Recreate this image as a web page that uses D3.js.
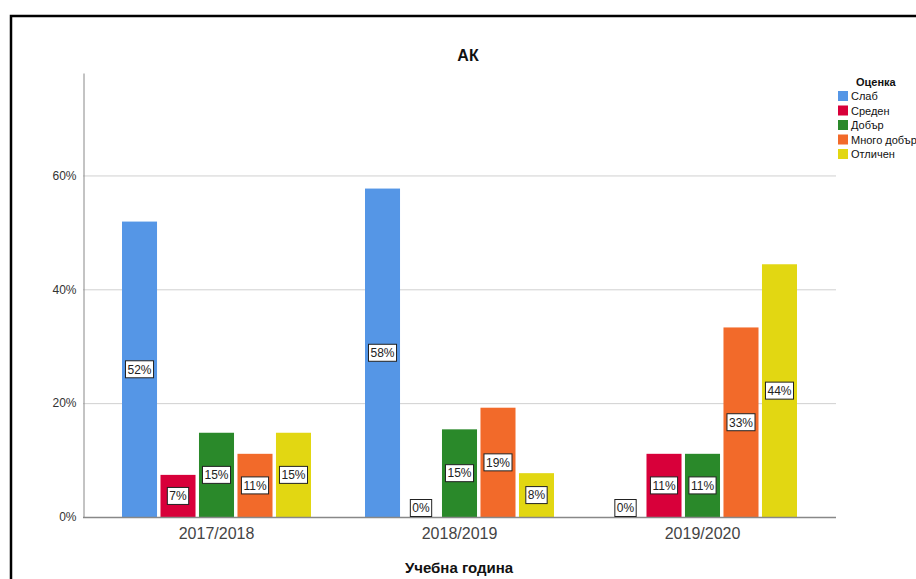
<!DOCTYPE html>
<html>
<head>
<meta charset="utf-8">
<script src="https://cdn.jsdelivr.net/npm/d3@7"></script>
<style>
  html, body { margin: 0; padding: 0; background: #fff; }
  svg { display: block; font-family: "Liberation Sans", Arial, sans-serif; }
</style>
</head>
<body>
<svg id="chart" width="916" height="579"></svg>
<script>
// School years on the x axis
const years = ["2017/2018", "2018/2019", "2019/2020"];
// Grade categories (legend order)
const grades = ["Слаб", "Среден", "Добър", "Много добър", "Отличен"];
const gradeColors = ["#5596e6", "#d8003a", "#2a892a", "#f26a2a", "#e2d712"];
// Share of students per grade, in percent, one array per school year
const share2017 = [51.9, 7.4, 14.8, 11.1, 14.8];
const share2018 = [57.7, 0, 15.4, 19.2, 7.7];
const share2019 = [0, 11.1, 11.1, 33.3, 44.4];
const yTicks = [0, 20, 40, 60];

const shares = [share2017, share2018, share2019];
const rows = [];
years.forEach((yr, i) => grades.forEach((g, j) => rows.push({ year: yr, grade: g, value: shares[i][j], gi: j })));

const svg = d3.select("#chart");

// outer frame
svg.append("rect")
  .attr("x", 11).attr("y", 16).attr("width", 920).attr("height", 600)
  .attr("fill", "none").attr("stroke", "#000").attr("stroke-width", 2.5);

const x0 = d3.scaleBand().domain(years).range([95, 824])
  .paddingInner(54 / 243).paddingOuter(27 / 243);
const x1 = d3.scaleBand().domain(grades).range([0, x0.bandwidth()]).paddingInner(0.09).paddingOuter(0);
const y = d3.scaleLinear().domain([0, 78]).range([517, 73]);

// gridlines
svg.append("g").selectAll("line").data(yTicks.filter(t => t > 0)).join("line")
  .attr("x1", 83).attr("x2", 836)
  .attr("y1", d => y(d) + 0.5).attr("y2", d => y(d) + 0.5)
  .attr("stroke", "#d0d0d0").attr("stroke-width", 1);

// y axis
const yAxis = svg.append("g").attr("transform", "translate(83.5,0)")
  .call(d3.axisLeft(y).tickValues(yTicks).tickSize(0).tickPadding(7).tickFormat(d => d + "%"));
yAxis.select(".domain").attr("stroke", "#888");
yAxis.selectAll("text").attr("font-size", 12).attr("fill", "#333")
  .attr("font-family", "Liberation Sans, Arial, sans-serif");

// bars
svg.append("g").selectAll("rect").data(rows).join("rect")
  .attr("x", d => x0(d.year) + x1(d.grade))
  .attr("width", x1.bandwidth())
  .attr("y", d => y(d.value))
  .attr("height", d => y(0) - y(d.value))
  .attr("fill", d => gradeColors[d.gi]);

// x axis
const xAxis = svg.append("g").attr("transform", "translate(0,517.5)")
  .call(d3.axisBottom(x0).tickSize(0).tickPadding(10));
xAxis.select(".domain").attr("d", "M83,0H836").attr("stroke", "#888").attr("stroke-width", 1.5);
xAxis.selectAll("text").attr("font-size", 16).attr("fill", "#444")
  .attr("font-family", "Liberation Sans, Arial, sans-serif");

// value labels
const fmt = d => d3.format(".0f")(d) + "%";
const lab = svg.append("g").selectAll("g").data(rows).join("g")
  .attr("transform", d => {
    const cx = x0(d.year) + x1(d.grade) + x1.bandwidth() / 2;
    const cy = Math.min((y(d.value) + y(0)) / 2, y(0) - 9);
    return `translate(${cx},${cy})`;
  });
lab.each(function (d) {
  const g = d3.select(this);
  const t = g.append("text").text(fmt(d.value))
    .attr("text-anchor", "middle").attr("dy", "0.36em")
    .attr("font-size", 12).attr("fill", "#222");
  const w = t.node().getComputedTextLength() + 4;
  g.insert("rect", "text")
    .attr("x", -w / 2).attr("y", -8.5).attr("width", w).attr("height", 17)
    .attr("fill", "#fff").attr("stroke", "#222").attr("stroke-width", 1);
});

// title
svg.append("text").attr("x", 468).attr("y", 61).attr("text-anchor", "middle")
  .attr("font-size", 16).attr("font-weight", "bold").attr("fill", "#111").text("АК");

// x axis title
svg.append("text").attr("x", 459).attr("y", 573).attr("text-anchor", "middle")
  .attr("font-size", 15).attr("font-weight", "bold").attr("fill", "#111").text("Учебна година");

// legend
const legend = svg.append("g").attr("transform", "translate(838,0)");
legend.append("text").attr("x", 18).attr("y", 86)
  .attr("font-size", 11).attr("font-weight", "bold").attr("fill", "#111").text("Оценка");
const li = legend.selectAll("g.item").data(grades).join("g").attr("class", "item")
  .attr("transform", (d, i) => `translate(0,${91 + i * 14.5})`);
li.append("rect").attr("width", 10).attr("height", 10).attr("fill", (d, i) => gradeColors[i]);
li.append("text").attr("x", 13).attr("y", 9).attr("font-size", 11).attr("fill", "#111").text(d => d);
</script>
</body>
</html>
